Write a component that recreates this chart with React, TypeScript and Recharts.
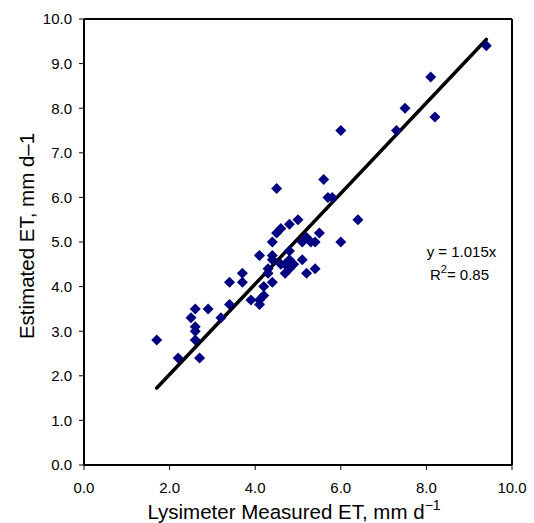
import React from 'react';
import {
  ScatterChart,
  Scatter,
  XAxis,
  YAxis,
  ReferenceLine,
  ReferenceDot,
  Label,
} from 'recharts';

// lysimeter (x) vs estimated (y) daily ET, mm/d
const lysimeterET = [
  1.7, 2.2, 2.7, 2.6, 2.6, 2.6, 2.5, 2.6, 2.9, 3.2, 3.4, 3.4, 3.7, 3.7, 3.9,
  4.1, 4.1, 4.2, 4.2, 4.1, 4.4, 4.3, 4.3, 4.4, 4.4, 4.4, 4.5, 4.6, 4.5, 4.8,
  5.0, 4.6, 4.7, 4.8, 4.8, 4.8, 4.9, 4.7, 5.1, 5.2, 5.4, 5.1, 5.2, 5.3, 5.4,
  5.5, 5.6, 5.7, 5.8, 6.0, 6.0, 6.4, 7.3, 7.5, 8.1, 8.2, 9.4,
];
const estimatedET = [
  2.8, 2.4, 2.4, 2.8, 3.0, 3.1, 3.3, 3.5, 3.5, 3.3, 3.6, 4.1, 4.1, 4.3, 3.7,
  3.6, 3.7, 3.8, 4.0, 4.7, 4.1, 4.3, 4.4, 4.7, 4.6, 5.0, 5.2, 5.3, 6.2, 5.4,
  5.5, 4.5, 4.3, 4.4, 4.6, 4.8, 4.5, 4.5, 4.6, 4.3, 4.4, 5.0, 5.1, 5.0, 5.0,
  5.2, 6.4, 6.0, 6.0, 7.5, 5.0, 5.5, 7.5, 8.0, 8.7, 7.8, 9.4,
];

const xTicks = [0, 2, 4, 6, 8, 10];
const yTicks = [0, 1, 2, 3, 4, 5, 6, 7, 8, 9, 10];
const slope = 1.015;
const rSquared = 0.85;
const fitStart = 1.7;
const fitEnd = 9.4;

const points = lysimeterET.map((x, i) => ({ x, y: estimatedET[i] }));

const FONT = '"Liberation Sans", Arial, sans-serif';

if (typeof document !== 'undefined') document.body.style.margin = '0';

const Diamond = (props: any) => {
  const { cx, cy } = props;
  if (cx == null || cy == null) return null;
  const r = 5.5;
  return (
    <polygon
      points={`${cx},${cy - r} ${cx + r},${cy} ${cx},${cy + r} ${cx - r},${cy}`}
      fill="#000080"
    />
  );
};

const YTitle = ({ viewBox }: any) => {
  const x = viewBox.x + 34;
  const y = viewBox.y + viewBox.height / 2 - 6;
  return (
    <text
      x={x}
      y={y}
      transform={`rotate(-90, ${x}, ${y})`}
      textAnchor="middle"
      fontFamily={FONT}
      fontSize={20.5}
      fill="#000"
    >
      Estimated ET, mm d–1
    </text>
  );
};

const XTitle = ({ viewBox }: any) => {
  const x = viewBox.x + viewBox.width / 2 - 4;
  const y = viewBox.y + 54;
  return (
    <text x={x} y={y} textAnchor="middle" fontFamily={FONT} fontSize={20.5} fill="#000">
      Lysimeter Measured ET, mm d
      <tspan dy={-9} fontSize={14}>−1</tspan>
    </text>
  );
};

const EquationLabel = ({ viewBox }: any) => {
  const x = viewBox.x;
  const y = viewBox.y;
  return (
    <text x={x} y={y} textAnchor="middle" fontFamily={FONT} fontSize={15} fill="#000">
      <tspan x={x} dy={5}>{`y = ${slope.toFixed(3)}x`}</tspan>
      <tspan x={x - 2} dy={23}>R</tspan>
      <tspan dy={-7} fontSize={11}>2</tspan>
      <tspan dy={7}>{`= ${rSquared.toFixed(2)}`}</tspan>
    </text>
  );
};

export default function App() {
  const tickStyle = { fontSize: 15, fill: '#000', fontFamily: FONT };
  return (
    <div style={{ width: 534, height: 523, background: '#fff' }}>
      <ScatterChart
        width={534}
        height={523}
        margin={{ top: 19, right: 22, bottom: 0, left: 0 }}
      >
        <XAxis
          type="number"
          dataKey="x"
          domain={[0, 10]}
          ticks={xTicks}
          interval={0}
          tickFormatter={(v) => v.toFixed(1)}
          tick={tickStyle}
          tickSize={5}
          tickMargin={12}
          height={58}
          axisLine={{ stroke: '#000', strokeWidth: 2 }}
          tickLine={{ stroke: '#000' }}
        >
          <Label content={<XTitle />} />
        </XAxis>
        <YAxis
          type="number"
          dataKey="y"
          domain={[0, 10]}
          ticks={yTicks}
          interval={0}
          tickFormatter={(v) => v.toFixed(1)}
          tick={tickStyle}
          tickSize={5}
          tickMargin={7}
          width={84}
          axisLine={{ stroke: '#000', strokeWidth: 2 }}
          tickLine={{ stroke: '#000' }}
        >
          <Label content={<YTitle />} />
        </YAxis>
        <ReferenceLine y={10} stroke="#000" strokeWidth={2} />
        <ReferenceLine x={10} stroke="#000" strokeWidth={2} />
        <Scatter
          data={points}
          shape={<Diamond />}
          isAnimationActive={false}
        />
        <ReferenceLine
          segment={[
            { x: fitStart, y: slope * fitStart },
            { x: fitEnd, y: slope * fitEnd },
          ]}
          stroke="#000"
          strokeWidth={3.5}
          strokeLinecap="round"
        />
        <ReferenceDot x={8.82} y={4.78} r={0} label={<EquationLabel />} />
      </ScatterChart>
    </div>
  );
}
